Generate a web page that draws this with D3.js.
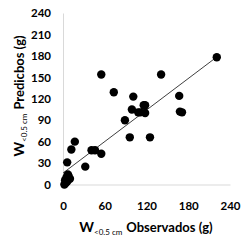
<!DOCTYPE html>
<html>
<head>
<meta charset="utf-8">
<script src="https://cdn.jsdelivr.net/npm/d3@7"></script>
<style>
  body { margin: 0; background: #fff; }
  text { font-family: Lato, "Open Sans", sans-serif; }
</style>
</head>
<body>
<div class="chart"></div>
<script>
var width = 241, height = 247;

// observed vs predicted (g)
var observados = [221, 167, 141, 168, 171, 118, 118, 111, 55, 73, 101, 99, 108, 116, 89, 96, 125,
                  17, 12, 41, 46, 55, 6, 32, 4, 3, 5, 8, 10, 6, 2, 7];
var predichos  = [178, 124, 154, 102, 101, 111, 100, 101, 154, 129, 123, 105, 101, 111, 90, 66, 66,
                  60, 49, 48, 48, 43, 31, 25, 2, 6, 10, 12, 8, 4, 0, 14];
var xTicks = [0, 60, 120, 180, 240];
var yTicks = [0, 30, 60, 90, 120, 150, 180, 210, 240];
// linear trend line
var trendIntercept = 16, trendSlope = 0.735;

var points = observados.map(function(d, i) { return {x: d, y: predichos[i]}; });

var svg = d3.select(".chart").append("svg")
    .attr("width", width)
    .attr("height", height);

var x = d3.scaleLinear().domain([0, 240]).range([63, 230]);
var y = d3.scaleLinear().domain([0, 240]).range([184.5, 13]);

// axes
var xAxis = svg.append("g")
    .attr("transform", "translate(0," + y(0) + ")")
    .call(d3.axisBottom(x).tickValues(xTicks).tickSize(0).tickPadding(17));
var yAxis = svg.append("g")
    .attr("transform", "translate(" + x(0) + ",0)")
    .call(d3.axisLeft(y).tickValues(yTicks).tickSize(0).tickPadding(12));

[xAxis, yAxis].forEach(function(a) {
  a.select(".domain").attr("stroke", "#d9d9d9");
  a.selectAll("text")
    .attr("font-family", "Lato, sans-serif")
    .attr("font-size", 11.5)
    .attr("font-weight", "bold")
    .attr("fill", "#000");
});

// trend line
var xMax = d3.max(observados), xMin = 0;
svg.append("line")
    .attr("x1", x(xMin)).attr("y1", y(trendIntercept + trendSlope * xMin))
    .attr("x2", x(xMax)).attr("y2", y(trendIntercept + trendSlope * xMax))
    .attr("stroke", "#404040")
    .attr("stroke-width", 1);

// points
svg.append("g").selectAll("circle")
    .data(points)
  .enter().append("circle")
    .attr("cx", function(d) { return x(d.x); })
    .attr("cy", function(d) { return y(d.y); })
    .attr("r", 4.2)
    .attr("fill", "#000");

// axis titles
function title(g) {
  g.append("tspan").attr("font-size", 14).text("W");
  g.append("tspan").attr("font-size", 8).attr("font-weight", "normal").attr("dy", 3).text("<0.5 cm");
  g.append("tspan").attr("font-size", 13).attr("dy", -3).attr("dx", 4).text(this.label);
}

var xt = svg.append("text")
    .attr("x", 146).attr("y", 232)
    .attr("text-anchor", "middle")
    .attr("font-weight", "bold");
title.call({label: "Observados (g)"}, xt);

var yt = svg.append("text")
    .attr("transform", "translate(24,96) rotate(-90)")
    .attr("text-anchor", "middle")
    .attr("font-weight", "bold");
title.call({label: "Predicbos (g)"}, yt);
</script>
</body>
</html>
